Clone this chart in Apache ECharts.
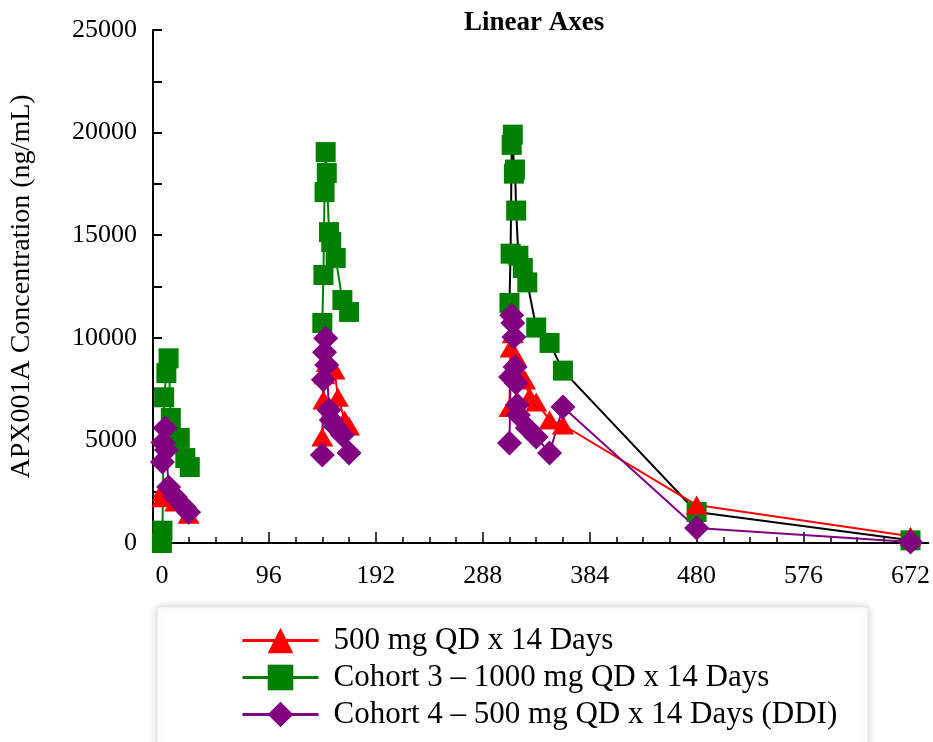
<!DOCTYPE html>
<html><head><meta charset="utf-8">
<script src="https://cdn.jsdelivr.net/npm/echarts@6/dist/echarts.min.js"></script>
<style>html,body{margin:0;padding:0;background:#fff}#c{width:933px;height:742px}</style>
</head><body><div id="c"></div>
<script>
const chartTitle = 'Linear Axes';
const yAxisName = 'APX001A Concentration (ng/mL)';
const seriesNames = ['500 mg QD x 14 Days', 'Cohort 3 \u2013 1000 mg QD x 14 Days', 'Cohort 4 \u2013 500 mg QD x 14 Days (DDI)'];
const xTickValues = [0,24,48,72,96,120,144,168,192,216,240,264,288,312,336,360,384,408,432,456,480,504,528,552,576,600,624,648,672];
const xLabelValues = [0,96,192,288,384,480,576,672];
const yLabelValues = [0,5000,10000,15000,20000,25000];

// 500 mg QD x 14 Days (red)
const redDay1Hours = [0.5,1,2,4,8,12,24];
const redDay1Conc  = [2200,2500,2700,2600,2300,2000,1400];
const redDay7Hours = [144,145,146,148,152,155,158,164,168];
const redDay7Conc  = [5170,6970,8200,8800,8600,8430,7100,6000,5700];
const redDay14Hours = [312,313,315,318,320,326,330,336,348,360,480,672];
const redDay14Conc  = [6600,9500,10200,9060,8430,7940,7110,6870,6000,5750,1850,330];

// Cohort 3 - 1000 mg (green)
const grnDay1Hours = [0,0.5,2,4,6,8,16,21,25];
const grnDay1Conc  = [0,600,7100,8280,9000,6090,5120,4140,3700];
const grnDay7Hours = [144,145,146,147,148,150,152,156,162,168];
const grnDay7Conc  = [10720,13060,17100,19050,18030,15150,14670,13890,11840,11260];
const grnDay14Hours = [312,313,314,315,316,317,318,320,324,328,336,348,360,480,672];
const grnDay14Conc  = [11700,14100,19400,19900,18000,18200,16200,14000,13400,12700,10500,9750,8400,1510,130];

// Cohort 4 - 500 mg DDI (purple)
const purDay1Hours = [0.5,1,3,4,6,12,20,24];
const purDay1Conc  = [3950,4900,5600,4530,2730,2240,1750,1500];
const purDay7Hours = [144,145,146,147,148,150,152,156,162,168];
const purDay7Conc  = [4290,7950,9300,9980,8680,6480,5990,5650,5260,4390];
const purDay14Hours = [312,313,314,315,316,317,318,319,320,328,336,348,360,480,672];
const purDay14Conc  = [4870,8090,11100,10720,10040,8580,7800,6730,6240,5600,5170,4390,6630,730,50];

function pairs(h, c) { return h.map((t, i) => [t, c[i]]); }
function joinSegments(segs) {
  const out = [];
  segs.forEach((s, i) => {
    if (i > 0) {
      const prev = out[out.length - 1][0];
      out.push([(prev + s[0][0]) / 2, '-']);
    }
    s.forEach(p => out.push(p));
  });
  return out;
}

const RED = '#ff0000', GREEN = '#008000', PURPLE = '#800080';
const serif = 'Liberation Serif';

const chart = echarts.init(document.getElementById('c'), null, {renderer: 'canvas'});
chart.setOption({
  animation: false,
  backgroundColor: '#fff',
  title: {
    text: chartTitle, left: 459, top: 5,
    textStyle: {fontFamily: serif, fontWeight: 'bold', fontSize: 27, color: '#000'}
  },
  grid: {left: 153, right: 3, top: 30, bottom: 199, containLabel: false},
  graphic: [{
    type: 'rect', z: 0,
    shape: {x: 157, y: 607, width: 711, height: 150},
    style: {fill: '#fff', stroke: '#e4e4e4', lineWidth: 1, shadowBlur: 8, shadowColor: 'rgba(0,0,0,0.18)'}
  }],
  legend: {
    orient: 'vertical', left: 236, top: 620,
    itemWidth: 76, itemHeight: 32, itemGap: 6,
    data: seriesNames,
    lineStyle: {width: 3},
    textStyle: {fontFamily: serif, fontSize: 31, color: '#000', padding: [0, 0, 0, 10]}
  },
  xAxis: [{
    type: 'value', min: -8, max: 688, position: 'bottom',
    axisLine: {show: true, onZero: false, lineStyle: {color: '#000', width: 2}},
    axisTick: {show: true, inside: true, length: 6, customValues: xTickValues, lineStyle: {color: '#000', width: 1.5}},
    axisLabel: {customValues: xLabelValues, fontFamily: serif, fontSize: 26, color: '#000', margin: 20},
    splitLine: {show: false}
  }, {
    type: 'value', min: -8, max: 688, position: 'bottom',
    axisLine: {show: false},
    axisTick: {show: true, inside: true, length: 11, customValues: xLabelValues, lineStyle: {color: '#000', width: 1.5}},
    axisLabel: {show: false},
    splitLine: {show: false}
  }],
  yAxis: {
    type: 'value', min: 0, max: 25000, interval: 2500,
    name: yAxisName, nameLocation: 'middle', nameGap: 117,
    nameTextStyle: {fontFamily: serif, fontSize: 28, color: '#000'},
    axisLine: {show: true, onZero: false, lineStyle: {color: '#000', width: 2}},
    axisTick: {show: true, inside: true, length: 9, lineStyle: {color: '#000', width: 2}},
    axisLabel: {customValues: yLabelValues, formatter: v => String(v), fontFamily: serif, fontSize: 26, color: '#000', margin: 16},
    splitLine: {show: false}
  },
  series: [{
    name: seriesNames[1], type: 'line', symbol: 'rect', symbolSize: 20,
    itemStyle: {color: GREEN}, lineStyle: {color: GREEN, width: 2},
    data: joinSegments([pairs(grnDay1Hours, grnDay1Conc), pairs(grnDay7Hours, grnDay7Conc)])
  }, {
    name: seriesNames[1], type: 'line', symbol: 'rect', symbolSize: 20,
    itemStyle: {color: GREEN}, lineStyle: {color: '#000', width: 2},
    data: pairs(grnDay14Hours, grnDay14Conc)
  }, {
    name: seriesNames[0], type: 'line', symbol: 'triangle', symbolSize: [22, 19],
    itemStyle: {color: RED}, lineStyle: {color: RED, width: 2},
    data: joinSegments([pairs(redDay1Hours, redDay1Conc), pairs(redDay7Hours, redDay7Conc), pairs(redDay14Hours, redDay14Conc)])
  }, {
    name: seriesNames[2], type: 'line', symbol: 'diamond', symbolSize: 25,
    itemStyle: {color: PURPLE}, lineStyle: {color: PURPLE, width: 2},
    data: joinSegments([pairs(purDay1Hours, purDay1Conc), pairs(purDay7Hours, purDay7Conc), pairs(purDay14Hours, purDay14Conc)])
  }]
});
</script></body></html>
